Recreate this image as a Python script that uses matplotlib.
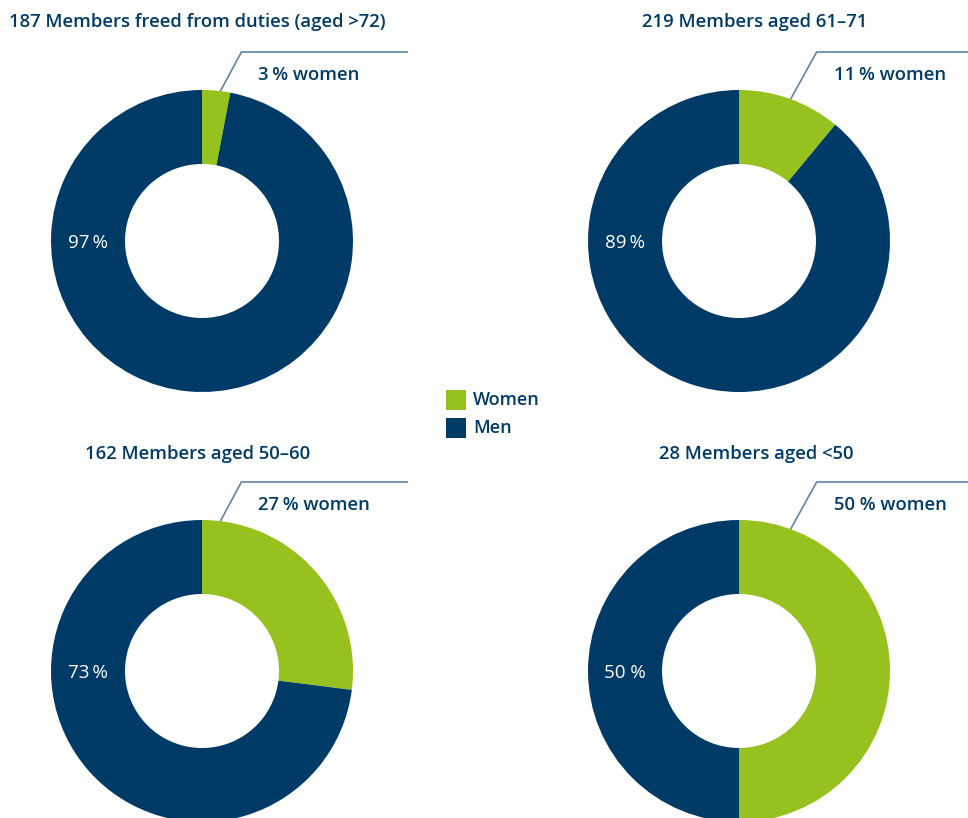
import matplotlib
matplotlib.use("Agg")
import matplotlib.pyplot as plt
import numpy as np

# data
titles = ["187 Members freed from duties (aged >72)", "219 Members aged 61–71",
          "162 Members aged 50–60", "28 Members aged <50"]
women_pct = [3, 11, 27, 50]
men_pct = [97, 89, 73, 50]
women_labels = ["3\u2009% women", "11\u2009% women", "27\u2009% women", "50 % women"]
men_labels = ["97\u2009%", "89\u2009%", "73\u2009%", "50 %"]
legend_names = ["Women", "Men"]

GREEN = "#97c11f"
NAVY = "#003a66"
LINE = "#5f84a6"
W, H = 968, 818

plt.rcParams["font.family"] = ["Open Sans", "DejaVu Sans"]

fig = plt.figure(figsize=(W / 100, H / 100), dpi=100)
ax = fig.add_axes([0, 0, 1, 1])

centers = [(202, 241), (739, 241), (202, 671), (739, 671)]
title_x = [197, 755, 198, 756]
title_y = [22, 22, 454, 454]
leader_ang = [83, 70, 83, 70]
r_out, r_in = 151, 77

for i in range(4):
    cx, cyp = centers[i]
    cy = H - cyp
    ax.pie([women_pct[i], men_pct[i]], colors=[GREEN, NAVY], startangle=90,
           counterclock=False, center=(cx, cy), radius=r_out,
           wedgeprops=dict(width=r_out - r_in, linewidth=0))
    ax.text(title_x[i], H - title_y[i], titles[i], ha="center", va="center",
            fontsize=13.3, fontweight="semibold", color=NAVY)
    # men label on ring, left side
    ax.text(cx - (r_out + r_in) / 2, cy - 2, men_labels[i], ha="center", va="center",
            fontsize=13.5, fontweight="medium", color="white")
    # leader line
    a = np.radians(leader_ang[i])
    x0, y0 = cx + r_out * np.cos(a), cy + r_out * np.sin(a)
    ey = cy + r_out + 38
    ex = x0 + 21 if i % 2 == 0 else x0 + 26
    xend = 408 if i % 2 == 0 else W
    ax.plot([x0, ex, xend], [y0, ey, ey], color=LINE, lw=1.2, solid_capstyle="butt")
    ax.text(ex + 17, ey - 23, women_labels[i], ha="left", va="center",
            fontsize=13.3, fontweight="semibold", color=NAVY)

# legend
for j, (name, col) in enumerate(zip(legend_names, [GREEN, NAVY])):
    yc = H - (400 + 28 * j)
    ax.add_patch(plt.Rectangle((446, yc - 10), 20, 20, color=col, lw=0))
    ax.text(473, yc, name, ha="left", va="center", fontsize=13,
            fontweight="semibold", color=NAVY)

ax.set_xlim(0, W)
ax.set_ylim(0, H)
ax.set_aspect("equal")
ax.axis("off")

fig.savefig("out.png", dpi=100)
